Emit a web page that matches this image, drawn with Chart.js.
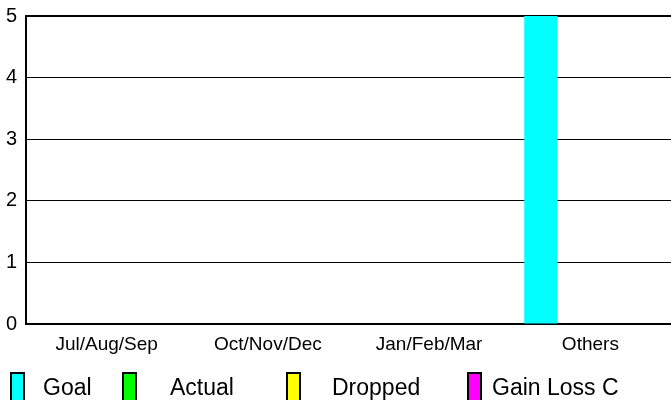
<!DOCTYPE html>
<html>
<head>
<meta charset="utf-8">
<script src="https://cdn.jsdelivr.net/npm/chart.js@4/dist/chart.umd.min.js"></script>
<style>
html,body{margin:0;padding:0;background:#fff;}
#wrap{width:671px;height:400px;position:relative;}
</style>
</head>
<body>
<div id="wrap"><canvas id="c" width="671" height="400"></canvas></div>
<script>
const categories = ["Jul/Aug/Sep", "Oct/Nov/Dec", "Jan/Feb/Mar", "Others"];
const goal = [0, 0, 0, 5];
const actual = [0, 0, 0, 0];
const dropped = [0, 0, 0, 0];
const gainLoss = [0, 0, 0, 0];
const seriesLabels = ["Goal", "Actual", "Dropped", "Gain Loss C"];
const seriesColors = ["#00FFFF", "#00FF00", "#FFFF00", "#FF00FF"];
const yTicks = [0, 1, 2, 3, 4, 5];

const FONT = "'Liberation Sans', Arial, sans-serif";

// custom legend positions (layout only)
const legendBoxX = [10, 122, 286, 467];
const legendTextX = [43, 170, 332, 492];

const legendPlugin = {
  id: 'customLegend',
  afterDraw(chart) {
    const ctx = chart.ctx;
    ctx.save();
    chart.data.datasets.forEach((ds, i) => {
      const bx = legendBoxX[i];
      ctx.fillStyle = '#000';
      ctx.fillRect(bx, 372, 15, 32);
      ctx.fillStyle = ds.backgroundColor;
      ctx.fillRect(bx + 2, 374, 11, 30);
      ctx.fillStyle = '#000';
      ctx.font = "23px " + FONT;
      ctx.textBaseline = 'alphabetic';
      ctx.textAlign = 'left';
      ctx.fillText(ds.label, legendTextX[i], 395);
    });
    ctx.restore();
  }
};

const seriesData = [goal, actual, dropped, gainLoss];

new Chart(document.getElementById('c'), {
  type: 'bar',
  data: {
    labels: categories,
    datasets: seriesData.map((d, i) => ({
      label: seriesLabels[i],
      data: d,
      backgroundColor: seriesColors[i],
      borderWidth: 0,
      barPercentage: 1,
      categoryPercentage: 0.82
    }))
  },
  options: {
    responsive: false,
    animation: false,
    layout: { padding: { top: 16, left: 0, right: 0, bottom: 0 } },
    plugins: { legend: { display: false }, tooltip: { enabled: false } },
    scales: {
      x: {
        grid: { display: false, drawTicks: false },
        border: { color: '#000', width: 2 },
        ticks: { color: '#000', font: { family: FONT, size: 19 }, padding: 9, maxRotation: 0 },
        afterFit(scale) { scale.height = 76; scale.paddingLeft = 0; scale.paddingRight = 0; }
      },
      y: {
        min: 0, max: 5,
        afterBuildTicks(scale) { scale.ticks = yTicks.map(v => ({ value: v })); },
        grid: {
          color: '#000',
          lineWidth: ctx => (ctx.tick && ctx.tick.value === 5) ? 2 : 1,
          drawTicks: false
        },
        border: { color: '#000', width: 2 },
        ticks: { color: '#000', font: { family: FONT, size: 20 }, padding: 9 },
        afterFit(scale) { scale.width = 26; scale.paddingTop = 0; scale.paddingBottom = 0; }
      }
    }
  },
  plugins: [legendPlugin]
});
</script>
</body>
</html>
